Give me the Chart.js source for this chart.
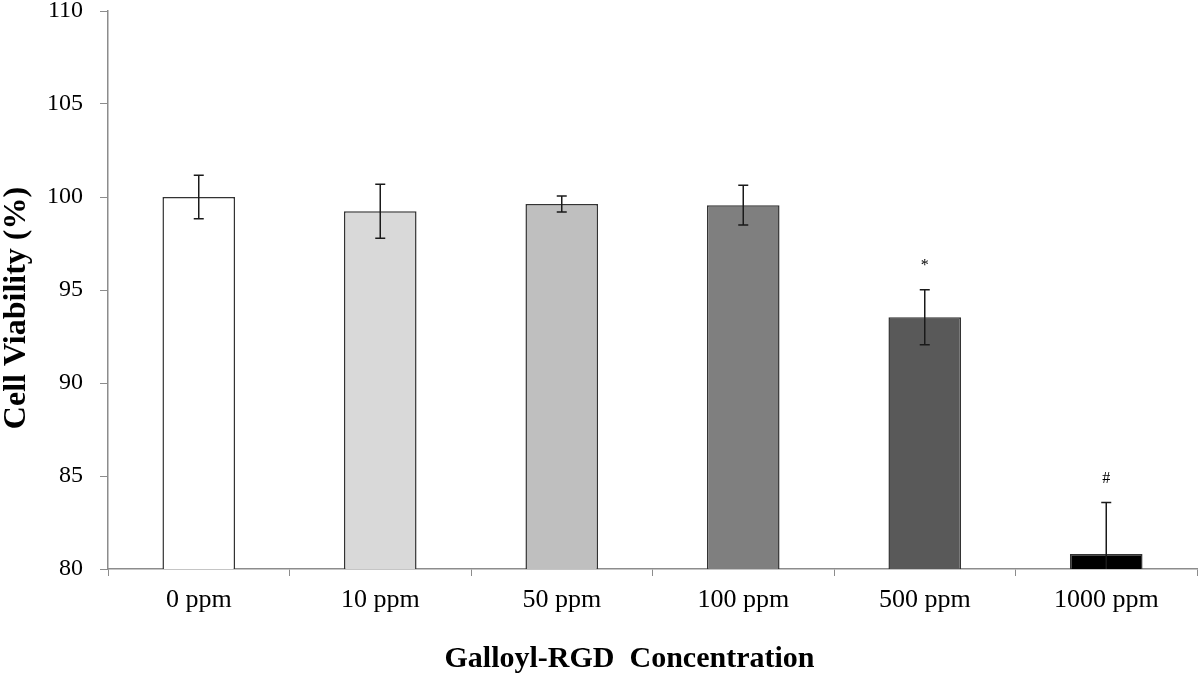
<!DOCTYPE html>
<html>
<head>
<meta charset="utf-8">
<script src="https://cdn.jsdelivr.net/npm/chart.js@4.4.0/dist/chart.umd.min.js"></script>
<style>
  html, body { margin: 0; padding: 0; background: #fff; }
  #wrap { width: 1200px; height: 675px; }
</style>
</head>
<body>
<div id="wrap"><canvas id="viabilityChart"></canvas></div>
<script>
// Données
const categories = ['0 ppm', '10 ppm', '50 ppm', '100 ppm', '500 ppm', '1000 ppm'];
const viability = [100.0, 99.23, 99.62, 99.56, 93.54, 80.81];
const errors = [1.17, 1.45, 0.43, 1.07, 1.48, 2.76];
const markers = ['', '', '', '', '*', '#'];
const barColors = ['#ffffff', '#d9d9d9', '#bfbfbf', '#7f7f7f', '#595959', '#000000'];
const yTicks = [80, 85, 90, 95, 100, 105, 110];
const xTitle = 'Galloyl-RGD  Concentration';
const yTitle = 'Cell Viability (%)';

const axisGrey = '#8c8c8c';
const serif = "'Liberation Serif', 'Times New Roman', serif";

// Barres d'erreur + marqueurs de significativité
const errorBarPlugin = {
    id: 'errorBars',
    afterDatasetsDraw(chart) {
        const ctx = chart.ctx;
        const x = chart.scales.x;
        const y = chart.scales.y;
        const area = chart.chartArea;
        ctx.save();
        ctx.strokeStyle = '#1a1a1a';
        ctx.lineWidth = 1.5;
        viability.forEach((v, i) => {
            const cx = x.getPixelForValue(i);
            const top = y.getPixelForValue(v + errors[i]);
            const bot = Math.min(y.getPixelForValue(v - errors[i]), area.bottom);
            ctx.beginPath();
            ctx.moveTo(cx, top);
            ctx.lineTo(cx, bot);
            ctx.moveTo(cx - 5, top);
            ctx.lineTo(cx + 5, top);
            if (bot < area.bottom) {
                ctx.moveTo(cx - 5, bot);
                ctx.lineTo(cx + 5, bot);
            }
            ctx.stroke();
            if (markers[i]) {
                ctx.fillStyle = '#000';
                ctx.font = '16px ' + serif;
                ctx.textAlign = 'center';
                ctx.textBaseline = 'middle';
                ctx.fillText(markers[i], cx, top - 24);
            }
        });
        ctx.restore();
    }
};

// Titres des axes (placés comme sur la figure d'origine)
const axisTitlePlugin = {
    id: 'axisTitles',
    afterDraw(chart) {
        const ctx = chart.ctx;
        const area = chart.chartArea;
        ctx.save();
        ctx.fillStyle = '#000';
        ctx.font = 'bold 30px ' + serif;
        ctx.textAlign = 'center';
        ctx.textBaseline = 'middle';
        ctx.fillText(xTitle, (area.left + area.right) / 2 - 23, chart.height - 16);
        ctx.translate(17, (area.top + area.bottom) / 2 + 18);
        ctx.rotate(-Math.PI / 2);
        ctx.font = 'bold 32px ' + serif;
        ctx.fillText(yTitle, 0, 0);
        ctx.restore();
    }
};

Chart.defaults.font.family = serif;
Chart.defaults.color = '#000';

new Chart(document.getElementById('viabilityChart'), {
    type: 'bar',
    data: {
        labels: categories,
        datasets: [{
            data: viability,
            backgroundColor: barColors,
            borderColor: '#333333',
            borderWidth: 1.5,
            categoryPercentage: 1.0,
            barPercentage: 0.4
        }]
    },
    options: {
        responsive: true,
        maintainAspectRatio: false,
        animation: false,
        layout: { padding: { top: 11, right: 3, left: 0, bottom: 0 } },
        plugins: { legend: { display: false }, tooltip: { enabled: false } },
        scales: {
            x: {
                grid: { drawOnChartArea: false, drawTicks: true, tickLength: 7, color: axisGrey, offset: true },
                border: { color: axisGrey, width: 1.5 },
                ticks: { font: { size: 26 }, padding: 9, maxRotation: 0 },
                afterFit(scale) { scale.height = 106; scale.paddingLeft = 0; scale.paddingRight = 0; }
            },
            y: {
                min: 80,
                max: 110,
                afterBuildTicks(scale) { scale.ticks = yTicks.map(v => ({ value: v })); },
                grid: { drawOnChartArea: false, drawTicks: true, tickLength: 8, color: axisGrey },
                border: { color: axisGrey, width: 1.5 },
                ticks: { font: { size: 24 }, padding: 17 },
                afterFit(scale) { scale.width = 108; scale.paddingTop = 0; scale.paddingBottom = 0; }
            }
        }
    },
    plugins: [errorBarPlugin, axisTitlePlugin]
});
</script>
</body>
</html>
